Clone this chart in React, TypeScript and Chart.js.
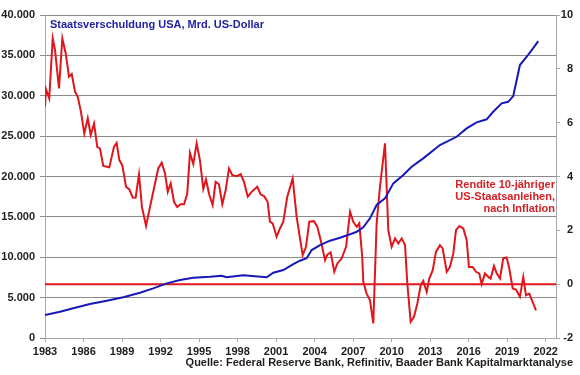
import React, { useEffect, useRef } from "react";
import { Chart, registerables } from "chart.js";

Chart.register(...registerables);

const X_MIN = 1983;
const X_MAX = 2022.8;

const yearTicks = [1983, 1986, 1989, 1992, 1995, 1998, 2001, 2004, 2007, 2010, 2013, 2016, 2019, 2022];
const debtTicks = [0, 5000, 10000, 15000, 20000, 25000, 30000, 35000, 40000];
const yieldTicks = [-2, 0, 2, 4, 6, 8, 10];

const titleText = "Staatsverschuldung USA, Mrd. US-Dollar";
const yieldLabel = ["Rendite 10-jähriger", "US-Staatsanleihen,", "nach Inflation"];
const sourceText = "Quelle: Federal Reserve Bank, Refinitiv, Baader Bank Kapitalmarktanalyse";

const yieldYears = [
  1983.0, 1983.08, 1983.33, 1983.6, 1983.78, 1984.09, 1984.35, 1984.61, 1984.87, 1985.08,
  1985.34, 1985.55, 1985.8, 1986.06, 1986.33, 1986.56, 1986.82, 1987.07, 1987.28, 1987.54,
  1988.01, 1988.37, 1988.58, 1988.79, 1989.02, 1989.31, 1989.57, 1989.83, 1990.06, 1990.32,
  1990.55, 1990.87, 1991.18, 1991.57, 1991.82, 1992.09, 1992.35, 1992.56, 1992.79, 1993.05,
  1993.3, 1993.57, 1993.83, 1994.08, 1994.29, 1994.55, 1994.81, 1995.07, 1995.33, 1995.54,
  1995.8, 1996.06, 1996.29, 1996.55, 1996.81, 1997.07, 1997.33, 1997.59, 1997.93, 1998.24,
  1998.5, 1998.79, 1999.1, 1999.53, 1999.8, 2000.06, 2000.34, 2000.52, 2000.73, 2001.04,
  2001.3, 2001.56, 2001.87, 2002.29, 2002.6, 2002.86, 2003.07, 2003.33, 2003.58, 2003.95,
  2004.21, 2004.47, 2004.81, 2004.99, 2005.25, 2005.53, 2005.77, 2006.11, 2006.45, 2006.76,
  2007.01, 2007.28, 2007.48, 2007.71, 2007.79, 2008.05, 2008.31, 2008.57, 2008.83, 2009.09,
  2009.48, 2009.74, 2010.0, 2010.26, 2010.52, 2010.78, 2011.04, 2011.22, 2011.48, 2011.74,
  2012.0, 2012.26, 2012.46, 2012.73, 2012.93, 2013.2, 2013.45, 2013.76, 2013.97, 2014.29,
  2014.54, 2014.8, 2015.01, 2015.27, 2015.58, 2015.84, 2016.02, 2016.31, 2016.57, 2016.82,
  2017.01, 2017.27, 2017.53, 2017.71, 2017.97, 2018.18, 2018.44, 2018.69, 2018.96, 2019.16,
  2019.43, 2019.68, 2019.99, 2020.25, 2020.46, 2020.72, 2020.98, 2021.24,
];

const yieldValues = [
  6.6, 7.24, 6.9, 9.13, 8.7, 7.27, 9.13, 8.58, 7.71, 7.81,
  7.15, 6.96, 6.4, 5.6, 6.16, 5.54, 5.97, 5.1, 5.04, 4.39,
  4.34, 5.1, 5.25, 4.61, 4.42, 3.62, 3.52, 3.22, 3.21, 4.08,
  2.87, 2.16, 2.87, 3.74, 4.3, 4.51, 4.11, 3.43, 3.74, 3.06,
  2.87, 2.97, 2.97, 3.37, 4.88, 4.46, 5.23, 4.6, 3.54, 3.89,
  3.31, 2.94, 3.8, 3.71, 2.97, 3.49, 4.3, 4.05, 4.01, 4.09,
  3.8, 3.25, 3.43, 3.62, 3.33, 3.27, 3.06, 2.32, 2.26, 1.76,
  2.07, 2.32, 3.25, 3.93, 2.5, 1.7, 1.08, 1.39, 2.32, 2.34,
  2.13, 1.64, 0.89, 1.1, 1.18, 0.46, 0.77, 0.96, 1.39, 2.69,
  2.32, 2.13, 2.26, 1.01, 0.09, -0.35, -0.59, -1.46, 2.26, 3.62,
  5.23, 2.0, 1.39, 1.7, 1.51, 1.7, 1.45, 0.03, -1.4, -1.21,
  -0.72, -0.04, 0.12, -0.29, 0.21, 0.52, 1.2, 1.45, 1.33, 0.46,
  0.64, 1.14, 2.01, 2.16, 2.07, 1.64, 0.64, 0.64, 0.46, 0.4,
  0.0, 0.4, 0.27, 0.21, 0.67, 0.4, 0.21, 0.96, 0.99, 0.58,
  -0.16, -0.2, -0.47, 0.27, -0.41, -0.35, -0.66, -0.97,
];

const debtYears = [
  1983.0, 1984.17, 1985.2, 1986.5, 1987.81, 1989.1, 1990.4, 1991.43, 1992.48, 1993.52,
  1994.55, 1995.85, 1996.76, 1997.15, 1998.44, 2000.27, 2000.78, 2001.56, 2002.34, 2002.86,
  2003.38, 2003.77, 2004.42, 2005.2, 2005.98, 2006.75, 2007.28, 2007.79, 2008.31, 2008.83,
  2009.48, 2010.13, 2010.91, 2011.56, 2012.46, 2013.76, 2015.06, 2015.84, 2016.62, 2017.4,
  2017.91, 2018.57, 2019.08, 2019.47, 2019.99, 2020.52, 2020.91, 2021.42,
];

const debtValues = [
  2850, 3260, 3680, 4210, 4620, 5040, 5610, 6150, 6770, 7180,
  7470, 7590, 7710, 7520, 7760, 7520, 8080, 8420, 9160, 9570,
  9870, 10890, 11510, 12050, 12420, 12840, 13160, 13710, 14820, 16470,
  17290, 19150, 20180, 21210, 22250, 23890, 24920, 25960, 26700, 27080,
  28020, 29060, 29250, 29960, 33800, 34830, 35650, 36770,
];

const zeroLevel = 0;

const RED = "#e0161c";
const BLUE = "#1818b8";
const GRID = "#8a8a8a";
const AXIS = "#a8a8a8";
const TEXT = "#1e1e1e";
const FONT = '"Liberation Sans", Arial, sans-serif';

export default function App() {
  const ref = useRef<HTMLCanvasElement>(null);

  useEffect(() => {
    if (!ref.current) return;
    Chart.defaults.font.family = FONT;

    const textPlugin = {
      id: "overlayTexts",
      afterDraw(chart: any) {
        const ctx = chart.ctx;
        const a = chart.chartArea;
        ctx.save();
        ctx.font = `bold 11px ${FONT}`;
        ctx.textBaseline = "middle";
        ctx.textAlign = "left";
        ctx.fillStyle = "#2222a6";
        ctx.fillText(titleText, a.left + 5, a.top + 10);
        ctx.fillStyle = "#d62024";
        ctx.textAlign = "right";
        yieldLabel.forEach((l, i) => ctx.fillText(l, a.right - 1, 185 + i * 12));
        ctx.fillStyle = TEXT;
        ctx.fillText(sourceText, 573, 363);
        ctx.restore();
      },
    };

    const chart = new Chart(ref.current, {
      type: "line",
      data: {
        datasets: [
          {
            label: "Staatsverschuldung",
            data: debtYears.map((x, i) => ({ x, y: debtValues[i] })),
            yAxisID: "y",
            borderColor: BLUE,
            borderWidth: 2,
            pointRadius: 0,
            tension: 0,
          },
          {
            label: "Rendite",
            data: yieldYears.map((x, i) => ({ x, y: yieldValues[i] })),
            yAxisID: "y2",
            borderColor: RED,
            borderWidth: 2,
            pointRadius: 0,
            tension: 0,
          },
          {
            label: "Null",
            data: [
              { x: X_MIN, y: zeroLevel },
              { x: X_MAX, y: zeroLevel },
            ],
            yAxisID: "y2",
            borderColor: RED,
            borderWidth: 2,
            pointRadius: 0,
          },
        ],
      },
      options: {
        animation: false,
        responsive: false,
        maintainAspectRatio: false,
        layout: { padding: { top: 15, right: 7, left: 0, bottom: 0 } },
        plugins: { legend: { display: false }, tooltip: { enabled: false } },
        scales: {
          x: {
            type: "linear",
            min: X_MIN,
            max: X_MAX,
            afterBuildTicks: (s: any) => {
              s.ticks = yearTicks.map((v) => ({ value: v }));
            },
            afterFit: (s: any) => {
              s.height = 37;
            },
            ticks: {
              callback: (v: any) => String(v),
              font: { size: 11, weight: "bold" },
              color: TEXT,
              padding: 3,
              maxRotation: 0,
              autoSkip: false,
            },
            grid: { drawOnChartArea: false, drawTicks: true, tickLength: 4, color: AXIS },
            border: { color: AXIS, width: 1 },
          },
          y: {
            position: "left",
            min: 0,
            max: 40000,
            afterBuildTicks: (s: any) => {
              s.ticks = debtTicks.map((v) => ({ value: v }));
            },
            afterFit: (s: any) => {
              s.width = 45;
            },
            ticks: {
              callback: (v: any) => Number(v).toLocaleString("de-DE"),
              font: { size: 11, weight: "bold" },
              color: TEXT,
              padding: 5,
            },
            grid: { color: GRID, tickLength: 5, lineWidth: 1 },
            border: { color: AXIS, width: 1 },
          },
          y2: {
            position: "right",
            min: -2,
            max: 10,
            afterBuildTicks: (s: any) => {
              s.ticks = yieldTicks.map((v) => ({ value: v }));
            },
            afterFit: (s: any) => {
              s.width = 17;
            },
            ticks: {
              callback: (v: any) => String(v),
              font: { size: 11, weight: "bold" },
              color: TEXT,
              crossAlign: "far",
            },
            grid: { drawOnChartArea: false, drawTicks: true, tickLength: 4, color: AXIS },
            border: { color: AXIS, width: 1 },
          },
        },
      },
      plugins: [textPlugin],
    });

    return () => chart.destroy();
  }, []);

  return (
    <div style={{ position: "absolute", left: 0, top: 0, width: 580, height: 375, background: "#fff" }}>
      <canvas ref={ref} width={580} height={375} />
    </div>
  );
}
